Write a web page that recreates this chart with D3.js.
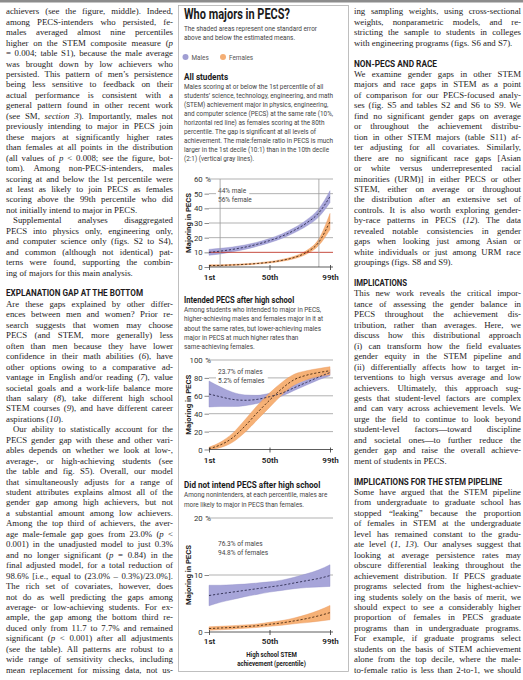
<!DOCTYPE html>
<html><head><meta charset="utf-8">
<script src="https://cdn.jsdelivr.net/npm/d3@7"></script>
<style>
html,body{margin:0;padding:0;background:#fff;}
svg{display:block;}
</style></head><body>
<svg id="page" width="523" height="680"></svg>
<script>
// ---------------- DATA ----------------
const PERCENTILES = [1, 10, 20, 30, 40, 50, 60, 70, 80, 90, 99];
const X_TICKS = [1, 50, 99];
const X_TICK_LABELS = ['1st', '50th', '99th'];

const ALL_MALES      = [10, 10.8, 12, 13.5, 15.5, 18, 21, 25, 30, 37, 48];
const ALL_MALES_SE   = [2.0, 1.9, 1.6, 1.5, 1.4, 1.4, 1.5, 1.7, 2.1, 2.8, 4.0];
const ALL_FEMALES    = [1, 1.1, 1.4, 1.8, 2.4, 3.2, 4.5, 6.5, 10, 17, 31];
const ALL_FEMALES_SE = [0.5, 0.4, 0.4, 0.4, 0.4, 0.5, 0.6, 0.8, 1.2, 2.2, 5.5];
const ALL_Y_TICKS = [0, 10, 20, 30, 40, 50, 60];

const INT_MALES      = [62, 59, 56, 55, 56, 59, 63, 69, 75, 81, 86];
const INT_MALES_SE   = [14.5, 11, 8, 6, 4.5, 3.8, 3.3, 3, 3, 3, 3.5];
const INT_FEMALES    = [1, 5, 13, 26, 41, 55, 68, 78, 83, 86, 88];
const INT_FEMALES_SE = [1.5, 3, 5, 7, 8, 8, 7, 6, 5, 4.5, 4.5];
const INT_Y_TICKS = [0, 20, 40, 60, 80, 100];

const NON_MALES      = [6.4, 6.7, 7.0, 7.3, 7.6, 7.9, 8.2, 8.6, 9.0, 9.4, 9.9];
const NON_MALES_SE   = [1.8, 1.5, 1.3, 1.1, 1.0, 0.9, 0.9, 1.0, 1.2, 1.5, 1.9];
const NON_FEMALES    = [0.6, 0.7, 0.8, 0.95, 1.1, 1.35, 1.6, 1.95, 2.35, 2.85, 3.4];
const NON_FEMALES_SE = [0.3, 0.3, 0.3, 0.3, 0.3, 0.35, 0.4, 0.5, 0.7, 0.95, 1.25];
const NON_Y_TICKS = [0, 10, 20];

const ALL_RED_LEVEL = 10;
const ALL_DECILES = [10, 90];

const LEGEND = ['Males', 'Females'];

const FIG_TITLE = 'Who majors in PECS?';
const FIG_SUBTITLE = ['The shaded areas represent one standard error', 'above and below the estimated means.'];
const ALL_HEAD = 'All students';
const ALL_TEXT = [
  'Males scoring at or below the 1st percentile of all',
  'students\u2019 science, technology, engineering, and math',
  '(STEM) achievement major in physics, engineering,',
  'and computer science (PECS) at the same rate (10%,',
  'horizontal red line) as females scoring at the 80th',
  'percentile. The gap is significant at all levels of',
  'achievement. The male:female ratio in PECS is much',
  'larger in the 1st decile (10:1) than in the 10th decile',
  '(2:1) (vertical gray lines).'
];
const ALL_NOTE = ['44% male', '56% female'];
const INT_HEAD = 'Intended PECS after high school';
const INT_TEXT = [
  'Among students who intended to major in PECS,',
  'higher-achieving males and females major in it at',
  'about the same rates, but lower-achieving males',
  'major in PECS at much higher rates than',
  'same-achieving females.'
];
const INT_NOTE = ['23.7% of males', '5.2% of females'];
const NON_HEAD = 'Did not intend PECS after high school';
const NON_TEXT = [
  'Among nonintenders, at each percentile, males are',
  'more likely to major in PECS than females.'
];
const NON_NOTE = ['76.3% of males', '94.8% of females'];
const Y_TITLE = 'Majoring in PECS';
const X_TITLE = ['High school STEM', 'achievement (percentile)'];

const LEFT_LINES = [
"achievers (see the figure, middle). Indeed,",
"among PECS-intenders who persisted, fe-",
"males averaged almost nine percentiles",
"higher on the STEM composite measure (_p_",
"= 0.004; table S1), because the male average",
"was brought down by low achievers who",
"persisted. This pattern of men\u2019s persistence",
"being less sensitive to feedback on their",
"actual performance is consistent with a",
"general pattern found in other recent work",
"(see SM, _section 3_). Importantly, males not",
"previously intending to major in PECS join",
"these majors at significantly higher rates",
"than females at all points in the distribution",
"(all values of _p_ < 0.008; see the figure, bot-",
"tom). Among non-PECS-intenders, males",
"scoring at and below the 1st percentile were",
"at least as likely to join PECS as females",
"scoring above the 99th percentile who did",
"not initially intend to major in PECS.$",
">Supplemental analyses disaggregated",
"PECS into physics only, engineering only,",
"and computer science only (figs. S2 to S4),",
"and common (although not identical) pat-",
"terns were found, supporting the combin-",
"ing of majors for this main analysis.$",
"",
"#EXPLANATION GAP AT THE BOTTOM",
"Are these gaps explained by other differ-",
"ences between men and women? Prior re-",
"search suggests that women may choose",
"PECS (and STEM, more generally) less",
"often than men because they have lower",
"confidence in their math abilities (_6_), have",
"other options owing to a comparative ad-",
"vantage in English and/or reading (_7_), value",
"societal goals and a work-life balance more",
"than salary (_8_), take different high school",
"STEM courses (_9_), and have different career",
"aspirations (_10_).$",
">Our ability to statistically account for the",
"PECS gender gap with these and other vari-",
"ables depends on whether we look at low-,",
"average-, or high-achieving students (see",
"the table and fig. S5). Overall, our model",
"that simultaneously adjusts for a range of",
"student attributes explains almost all of the",
"gender gap among high achievers, but not",
"a substantial amount among low achievers.",
"Among the top third of achievers, the aver-",
"age male-female gap goes from 23.0% (_p_ <",
"0.001) in the unadjusted model to just 0.3%",
"and no longer significant (_p_ = 0.84) in the",
"final adjusted model, for a total reduction of",
"98.6% [i.e., equal to (23.0% \u2013 0.3%)/23.0%].",
"The rich set of covariates, however, does",
"not do as well predicting the gaps among",
"average- or low-achieving students. For ex-",
"ample, the gap among the bottom third re-",
"duced only from 11.7 to 7.7% and remained",
"significant (_p_ < 0.001) after all adjustments",
"(see the table). All patterns are robust to a",
"wide range of sensitivity checks, including",
"mean replacement for missing data, not us-"
];

const RIGHT_LINES = [
"ing sampling weights, using cross-sectional",
"weights, nonparametric models, and re-",
"stricting the sample to students in colleges",
"with engineering programs (figs. S6 and S7).$",
"",
"#NON-PECS AND RACE",
"We examine gender gaps in other STEM",
"majors and race gaps in STEM as a point",
"of comparison for our PECS-focused analy-",
"ses (fig. S5 and tables S2 and S6 to S9. We",
"find no significant gender gaps on average",
"or throughout the achievement distribu-",
"tion in other STEM majors (table S11) af-",
"ter adjusting for all covariates. Similarly,",
"there are no significant race gaps [Asian",
"or white versus underrepresented racial",
"minorities (URM)] in either PECS or other",
"STEM, either on average or throughout",
"the distribution after an extensive set of",
"controls. It is also worth exploring gender-",
"by-race patterns in PECS (_12_). The data",
"revealed notable consistencies in gender",
"gaps when looking just among Asian or",
"white individuals or just among URM race",
"groupings (figs. S8 and S9).$",
"",
"#IMPLICATIONS",
"This new work reveals the critical impor-",
"tance of assessing the gender balance in",
"PECS throughout the achievement dis-",
"tribution, rather than averages. Here, we",
"discuss how this distributional approach",
"(i) can transform how the field evaluates",
"gender equity in the STEM pipeline and",
"(ii) differentially affects how to target in-",
"terventions to high versus average and low",
"achievers. Ultimately, this approach sug-",
"gests that student-level factors are complex",
"and can vary across achievement levels. We",
"urge the field to continue to look beyond",
"student-level factors\u2014toward discipline",
"and societal ones\u2014to further reduce the",
"gender gap and raise the overall achieve-",
"ment of students in PECS.$",
"",
"#IMPLICATIONS FOR THE STEM PIPELINE",
"Some have argued that the STEM pipeline",
"from undergraduate to graduate school has",
"stopped \u201cleaking\u201d because the proportion",
"of females in STEM at the undergraduate",
"level has remained constant to the gradu-",
"ate level (_1_, _13_). Our analyses suggest that",
"looking at average persistence rates may",
"obscure differential leaking throughout the",
"achievement distribution. If PECS graduate",
"programs selected from the highest-achiev-",
"ing students solely on the basis of merit, we",
"should expect to see a considerably higher",
"proportion of females in PECS graduate",
"programs than in undergraduate programs.",
"For example, if graduate programs select",
"students on the basis of STEM achievement",
"alone from the top decile, where the male-",
"to-female ratio is less than 2-to-1, we should"
];

// ---------------- STYLE ----------------
const INK = '#1e1b1c';
const SERIF = '"Liberation Serif", "Times New Roman", serif';
const SANS = 'Roboto, "Liberation Sans", Arial, sans-serif';
const BODY_SIZE = 8.8;
const MALE_FILL = '#a7a5d9';
const FEMALE_FILL = '#f5ab6c';
const MALE_DOT = '#a09ed3';
const FEMALE_DOT = '#f4ae74';

const svg = d3.select('#page');
svg.append('rect').attr('x', 0).attr('y', 0).attr('width', 523).attr('height', 2.5).attr('fill', '#8c8c8c');

// ---------------- TEXT COLUMNS ----------------
const HEAD_WIDTHS = {
  'EXPLANATION GAP AT THE BOTTOM': 137,
  'NON-PECS AND RACE': 83,
  'IMPLICATIONS': 53,
  'IMPLICATIONS FOR THE STEM PIPELINE': 148
};
function column(lines, x0, width) {
  const g = svg.append('g');
  lines.forEach((raw, i) => {
    if (!raw) return;
    const y = 14.3 + i * 10.45;
    if (raw[0] === '#') {
      const s = raw.slice(1);
      const t = g.append('text').attr('x', x0).attr('y', y)
        .attr('font-family', SANS).attr('font-weight', 700).attr('font-size', 8.6)
        .attr('fill', INK).text(s);
      if (HEAD_WIDTHS[s]) t.attr('textLength', HEAD_WIDTHS[s]).attr('lengthAdjust', 'spacingAndGlyphs');
      return;
    }
    let s = raw, indent = 0, last = false;
    if (s[0] === '>') { indent = 7; s = s.slice(1); }
    if (s.endsWith('$')) { last = true; s = s.slice(0, -1); }
    const t = g.append('text').attr('x', x0 + indent).attr('y', y)
      .attr('font-family', SERIF).attr('font-size', BODY_SIZE).attr('fill', INK);
    s.split('_').forEach((seg, k) => {
      if (seg) t.append('tspan').attr('font-style', k % 2 ? 'italic' : 'normal').text(seg);
    });
    const target = width - indent;
    const w = t.node().getComputedTextLength();
    const n = (s.replace(/_/g, '').match(/ /g) || []).length;
    if (!last && n > 0) {
      const ws = (target - w) / n;
      if (ws < -1.3) t.attr('textLength', target).attr('lengthAdjust', 'spacingAndGlyphs');
      else t.attr('word-spacing', ws);
    } else if (w > target) {
      t.attr('textLength', target).attr('lengthAdjust', 'spacingAndGlyphs');
    }
  });
}
column(LEFT_LINES, 6, 167);
column(RIGHT_LINES, 354, 167);

// ---------------- FIGURE ----------------
const fig = svg.append('g');
fig.append('rect').attr('x', 178.5).attr('y', 5.5).attr('width', 170).attr('height', 666)
  .attr('fill', '#fff').attr('stroke', '#b0b0b0').attr('stroke-width', 0.8);

function ftext(parent, str, x, y, o = {}) {
  const size = o.size || 7.8, sx = o.sx || 0.82;
  const t = parent.append('text').attr('font-family', SANS).attr('font-size', size)
    .attr('font-weight', o.weight || 400).attr('fill', o.fill || '#444')
    .attr('text-anchor', o.anchor || 'start').text(str);
  let k = sx;
  if (o.width) k = o.width / t.node().getComputedTextLength();
  t.attr('transform', `translate(${x},${y}) ${o.rotate ? 'rotate(-90)' : ''} scale(${k},1)`);
  return t;
}

ftext(fig, FIG_TITLE, 184, 19, { size: 14.5, weight: 700, fill: '#1a1a1a', width: 106 });
FIG_SUBTITLE.forEach((s, i) => ftext(fig, s, 184, 31 + i * 9, { size: 7.8, fill: '#444' }));

// legend
const legendX = [185.5, 223];
LEGEND.forEach((s, i) => {
  fig.append('circle').attr('cx', legendX[i]).attr('cy', 57).attr('r', 3)
    .attr('fill', i === 0 ? MALE_DOT : FEMALE_DOT);
  ftext(fig, s, legendX[i] + 6, 60, { size: 7.8, fill: '#555' });
});

const xScale = d3.scaleLinear().domain([1, 99]).range([209, 330]);

function panel(cfg) {
  const g = fig.append('g');
  ftext(g, cfg.head, 184, cfg.headY, { size: 8.4, weight: 700, fill: '#1a1a1a', width: cfg.headW });
  cfg.text.forEach((s, i) => ftext(g, s, 184, cfg.headY + 9 + i * cfg.pitch, { size: 7.8, fill: '#444' }));

  const y = d3.scaleLinear().domain(cfg.domain).range(cfg.range);
  const top = cfg.ticks[cfg.ticks.length - 1];
  // gridlines
  g.append('g').selectAll('line').data(cfg.ticks.filter(d => d > 0 && d !== cfg.red))
    .join('line').attr('x1', 209).attr('x2', 333)
    .attr('y1', d => y(d)).attr('y2', d => y(d))
    .attr('stroke', '#8f8f8f').attr('stroke-width', 0.7);

  // annotation
  cfg.note.forEach((s, i) => {
    const t = ftext(g, s, 218, cfg.noteY + i * 9.3, { size: 7.8, fill: '#444', sx: 0.84 });
    const bb = t.node().getBBox();
    const k = 0.84;
    g.insert('rect', () => t.node()).attr('x', 216).attr('y', cfg.noteY + i * 9.3 - 7)
      .attr('width', bb.width * k + 5).attr('height', 9).attr('fill', '#fff');
  });

  const series = (m, se) => PERCENTILES.map((p, i) => ({ p, m: m[i], lo: Math.max(cfg.domain[0], m[i] - se[i]), hi: m[i] + se[i] }));
  const males = series(cfg.males, cfg.malesSE);
  const females = series(cfg.females, cfg.femalesSE);
  const area = d3.area().x(d => xScale(d.p)).y0(d => y(d.lo)).y1(d => y(d.hi)).curve(d3.curveMonotoneX);
  const line = d3.line().x(d => xScale(d.p)).y(d => y(d.m)).curve(d3.curveMonotoneX);

  g.append('path').datum(males).attr('d', area).attr('fill', MALE_FILL).attr('stroke', '#8f8dc8').attr('stroke-width', 0.4);
  g.append('path').datum(females).attr('d', area).attr('fill', FEMALE_FILL).attr('fill-opacity', 0.93).attr('stroke', '#e8955a').attr('stroke-width', 0.4);

  if (cfg.red !== undefined) {
    g.append('line').attr('x1', 209).attr('x2', 333).attr('y1', y(cfg.red)).attr('y2', y(cfg.red))
      .attr('stroke', '#c0392b').attr('stroke-width', 0.9);
  }
  if (cfg.deciles) {
    g.append('g').selectAll('line').data(cfg.deciles).join('line')
      .attr('x1', d => xScale(d)).attr('x2', d => xScale(d))
      .attr('y1', y(cfg.domain[0])).attr('y2', y(top))
      .attr('stroke', '#9a9a9a').attr('stroke-width', 0.8);
  }

  g.append('path').datum(males).attr('d', line).attr('fill', 'none').attr('stroke', '#2d2b4f')
    .attr('stroke-width', 0.9).attr('stroke-dasharray', '2.2,1.8');
  g.append('path').datum(females).attr('d', line).attr('fill', 'none').attr('stroke', '#4a2a12')
    .attr('stroke-width', 0.9).attr('stroke-dasharray', '2.2,1.8');

  // y axis
  const ya = g.append('g').attr('transform', 'translate(209,0)')
    .call(d3.axisLeft(y).tickValues(cfg.ticks).tickSize(4.5).tickPadding(1.8).tickFormat(d3.format('d')));
  ya.select('.domain').remove();
  ya.selectAll('.tick line').attr('stroke', '#555').attr('stroke-width', 0.7);
  ya.selectAll('.tick text').attr('font-family', SANS).attr('font-size', 7.8).attr('fill', '#333');
  ya.selectAll('.tick').filter(d => d === top).each(function () {
    const tk = d3.select(this);
    tk.select('line').remove();
    tk.append('text').attr('x', -3.8).attr('dy', '0.32em').attr('font-family', SANS)
      .attr('font-size', 7.8).attr('fill', '#333').attr('text-anchor', 'start').text('%');
  });

  // x axis
  g.append('line').attr('x1', 209).attr('x2', 333).attr('y1', y(cfg.domain[0])).attr('y2', y(cfg.domain[0]))
    .attr('stroke', '#333').attr('stroke-width', 0.8);
  const xa = g.append('g').attr('transform', `translate(0,${y(cfg.domain[0])})`)
    .call(d3.axisBottom(xScale).tickValues(X_TICKS).tickSize(3).tickPadding(cfg.xPad)
      .tickFormat((d, i) => X_TICK_LABELS[i]));
  xa.select('.domain').remove();
  xa.selectAll('.tick line').attr('stroke', '#333').attr('stroke-width', 0.8).attr('y1', -2);
  xa.selectAll('.tick text').attr('font-family', SANS).attr('font-size', 8).attr('font-weight', 600).attr('fill', '#222');

  // y title
  ftext(g, Y_TITLE, 191, (cfg.range[0] + cfg.range[1]) / 2, { size: 8, weight: 700, fill: '#222', width: 60, anchor: 'middle', rotate: true });
}

panel({ head: ALL_HEAD, headY: 80, headW: 44, text: ALL_TEXT, pitch: 9,
  domain: [0, 60], range: [267, 179], ticks: ALL_Y_TICKS,
  males: ALL_MALES, malesSE: ALL_MALES_SE, females: ALL_FEMALES, femalesSE: ALL_FEMALES_SE,
  red: ALL_RED_LEVEL, deciles: ALL_DECILES, note: ALL_NOTE, noteY: 193, xPad: 4 });

panel({ head: INT_HEAD, headY: 303, headW: 110, text: INT_TEXT, pitch: 9.3,
  domain: [0, 100], range: [449.5, 360], ticks: INT_Y_TICKS,
  males: INT_MALES, malesSE: INT_MALES_SE, females: INT_FEMALES, femalesSE: INT_FEMALES_SE,
  note: INT_NOTE, noteY: 374, xPad: 4.5 });

panel({ head: NON_HEAD, headY: 488, headW: 136, text: NON_TEXT, pitch: 9.5,
  domain: [0, 20], range: [632, 518], ticks: NON_Y_TICKS,
  males: NON_MALES, malesSE: NON_MALES_SE, females: NON_FEMALES, femalesSE: NON_FEMALES_SE,
  note: NON_NOTE, noteY: 546, xPad: 3.5 });

X_TITLE.forEach((s, i) => ftext(fig, s, 271.5, 657 + i * 8.9, { size: 7.3, weight: 700, fill: '#222', anchor: 'middle', sx: 0.84 }));
</script></body></html>
